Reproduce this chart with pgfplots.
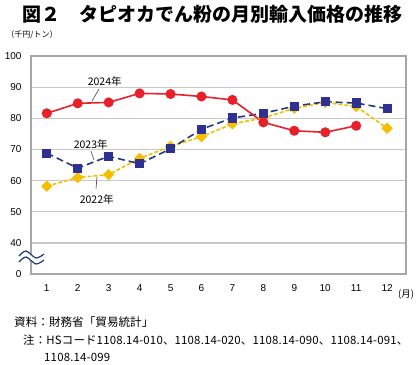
\documentclass[border=0pt]{standalone}
\usepackage{fontspec}
\setmainfont{Liberation Sans}
\newfontfamily\cjk{Noto Sans CJK JP}
\newfontfamily\cjkls{Noto Sans CJK JP}[LetterSpace=1.8]
\usepackage{pgfplots}
\pgfplotsset{compat=1.18}
\definecolor{cred}{HTML}{E8202A}
\definecolor{cblue}{HTML}{2E3192}
\definecolor{cblueline}{HTML}{1F3A78}
\definecolor{cyel}{HTML}{F5BE00}
\definecolor{cgrid}{HTML}{C8C8C8}
\definecolor{cframe}{HTML}{A6A6A6}
\begin{document}
\begin{tikzpicture}
\path[use as bounding box] (0pt,0pt) rectangle (420pt,-364pt);
\node[font=\cjk\bfseries\fontsize{19}{19}\selectfont] at (212pt,-14pt) {図２　タピオカでん粉の月別輸入価格の推移};
\node[font=\cjk\fontsize{8}{8}\selectfont] at (32pt,-35pt) {（千円/トン）};
\begin{axis}[
  at={(31pt,-274pt)}, anchor=south west, scale only axis,
  width=375pt, height=218pt,
  xmin=0.49, xmax=12.61, ymin=30, ymax=100,
  xtick={1,...,12}, ytick={30,40,...,100},
  yticklabels={0,40,50,60,70,80,90,100},
  major tick length=0pt,
  ymajorgrids, grid style={cgrid, line width=1.3pt},
  axis line style={cframe, line width=1.3pt},
  tick label style={font=\fontsize{10}{10}\selectfont},
  /pgf/number format/assume math mode=true,
  xticklabel style={yshift=-7pt},
  yticklabel style={xshift=-6pt},
  clip=false,
]
\addplot[cyel, line width=1.6pt, dash pattern=on 4pt off 2pt, mark=square*, mark size=3.2pt, mark options={solid, fill=cyel, draw=cyel, rotate=45}]
 coordinates {(1,58.2) (2,61.0) (3,61.9) (4,67.1) (5,71.0) (6,74.1) (7,78.2) (8,80.1) (9,83.2) (10,85.1) (11,83.8) (12,76.8)};
\addplot[cblueline, line width=1.6pt, dash pattern=on 7pt off 4pt, mark=square*, mark size=3.8pt, mark options={solid, fill=cblue, draw=cblue}]
 coordinates {(1,68.8) (2,64.0) (3,67.8) (4,65.4) (5,70.2) (6,76.5) (7,80.1) (8,81.6) (9,83.9) (10,85.3) (11,84.9) (12,83.1)};
\addplot[cred, line width=1.6pt, mark=*, mark size=4.2pt, mark options={fill=cred, draw=cred}]
 coordinates {(1,81.6) (2,84.8) (3,85.1) (4,88.0) (5,87.8) (6,87.0) (7,85.9) (8,78.7) (9,76.0) (10,75.5) (11,77.6)};
\end{axis}
% series labels and leaders
\node[font=\cjk\fontsize{10.5}{10.5}\selectfont] at (104.7pt,-81.7pt) {2024年};
\draw[black!75, line width=0.6pt] (99pt,-89pt) -- (92pt,-101pt);
\node[font=\cjk\fontsize{10.5}{10.5}\selectfont] at (90.7pt,-144.3pt) {2023年};
\draw[black!75, line width=0.6pt] (91pt,-151pt) -- (94pt,-160pt);
\node[font=\cjk\fontsize{10.5}{10.5}\selectfont] at (96.7pt,-199pt) {2022年};
\draw[black!75, line width=0.6pt] (96pt,-188.5pt) -- (97pt,-177pt);
% axis break
\fill[white] plot[smooth] coordinates {(19pt,-256pt) (26pt,-251pt) (36pt,-258pt) (44pt,-254pt)} -- plot[smooth] coordinates {(44pt,-260pt) (36pt,-264pt) (26pt,-257pt) (19pt,-262pt)} -- cycle;
\draw[cblueline, line width=1.2pt] plot[smooth] coordinates {(19pt,-256pt) (26pt,-251pt) (36pt,-258pt) (44pt,-254pt)};
\draw[cblueline, line width=1.2pt] plot[smooth] coordinates {(19pt,-262pt) (26pt,-257pt) (36pt,-264pt) (44pt,-260pt)};
\node[font=\cjk\fontsize{9.5}{9.5}\selectfont, anchor=west, inner sep=0pt] at (398pt,-295pt) {(月)};
% source
\node[font=\cjk\fontsize{11.6}{11.6}\selectfont, anchor=west, inner sep=0pt] at (14pt,-322pt) {資料：財務省「貿易統計」};
\node[font=\cjkls\fontsize{11.4}{11.4}\selectfont, anchor=west, inner sep=0pt] at (23pt,-340pt) {注：HSコード1108.14-010、1108.14-020、1108.14-090、1108.14-091、};
\node[font=\cjkls\fontsize{11.4}{11.4}\selectfont, anchor=west, inner sep=0pt] at (44pt,-357pt) {1108.14-099};
\end{tikzpicture}
\end{document}
